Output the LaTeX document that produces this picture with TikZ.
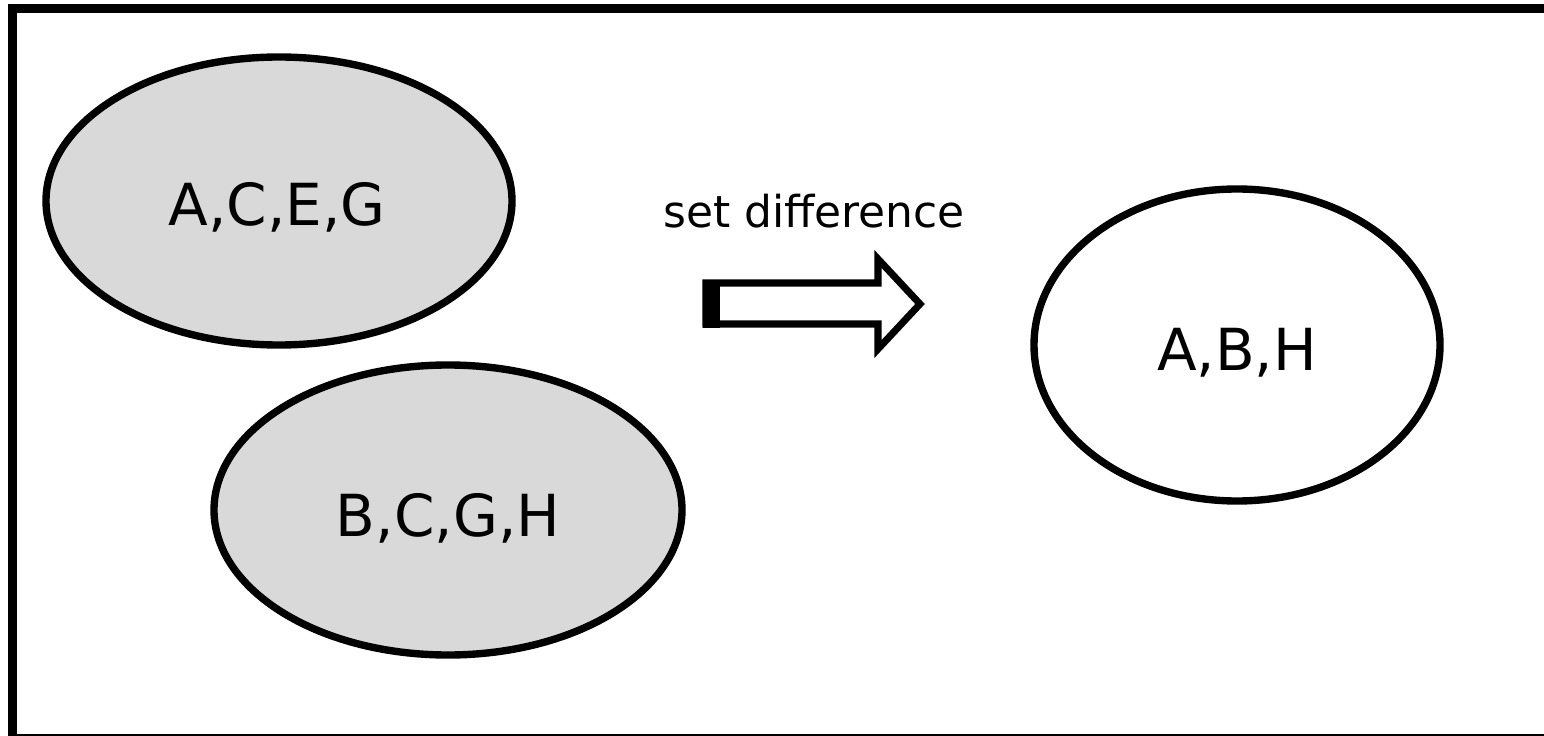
\documentclass[tikz,border=0pt]{standalone}
\usepackage{fontspec}
\setmainfont{DejaVu Sans}
\usetikzlibrary{arrows.meta}
\tikzset{>=stealth}
\definecolor{setgray}{RGB}{217,217,217}
\tikzset{
    setbox/.style = {draw, line width = 4.2pt},
    setlabel/.style = {anchor = base, font = \fontsize{33}{38}\selectfont},
}

\begin{document}
\begin{tikzpicture}[x = 0.02cm, y = -0.02cm]
    \useasboundingbox (0,0) rectangle (1544,736);
    % frame
    \draw [line width = 5.1pt] (12.5,740) -- (12.5,8.5) -- (1550,8.5);
    \draw [line width = 1.2pt] (8,735) -- (1550,735);
    % the two input sets
    \draw [setbox, fill = setgray] (279,201) ellipse (233 and 144);
    \draw [setbox, fill = setgray] (448,510) ellipse (234 and 145);
    \node [setlabel] (first) at (277,226) {A,C,E,G};
    \node [setlabel] (second) at (448,536) {B,C,G,H};
    % result
    \draw [setbox, fill = white] (1237,345) ellipse (203 and 156);
    \node [setlabel] (result) at (1237,370) {A,B,H};
    % block arrow
    \node [anchor = base, font = \fontsize{25}{30}\selectfont] (op) at (814,228) {set difference};
    \draw [line width = 4pt, line join = miter]
        (706,283) -- (878,283) -- (878,259) -- (920,304) -- (878,349)
        -- (878,324) -- (706,324) -- cycle;
    \fill (703,280) rectangle (720,328);
\end{tikzpicture}
\end{document}
